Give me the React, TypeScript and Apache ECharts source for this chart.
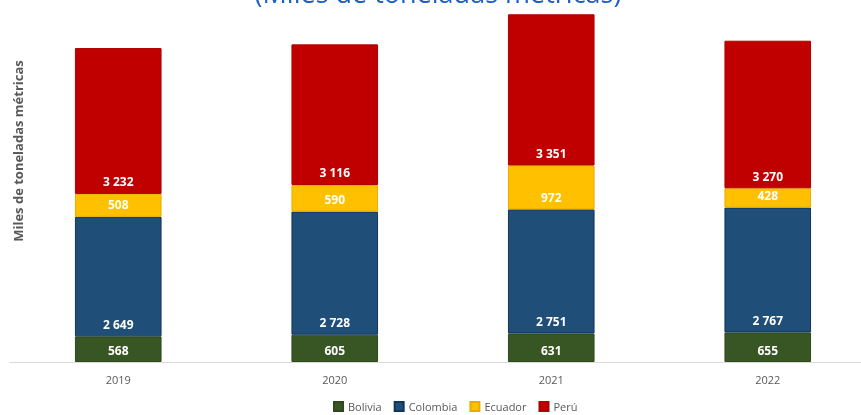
import React, { useEffect, useRef } from "react";
import * as echarts from "echarts";

const years = ["2019", "2020", "2021", "2022"];
const bolivia = [568, 605, 631, 655];
const colombia = [2649, 2728, 2751, 2767];
const ecuador = [508, 590, 972, 428];
const peru = [3232, 3116, 3351, 3270];

const fmt = (v: number) => {
  const s = String(Math.round(v));
  return s.replace(/\B(?=(\d{3})+(?!\d))/g, " ");
};

export default function App() {
  const ref = useRef<HTMLDivElement>(null);
  useEffect(() => {
    if (!ref.current) return;
    const chart = echarts.init(ref.current, null, { renderer: "svg" });
    const label = {
      show: true,
      position: "insideBottom" as const,
      distance: 6,
      color: "#ffffff",
      fontWeight: "bold" as const,
      fontSize: 12,
      fontFamily: "Open Sans",
      formatter: (p: any) => fmt(p.value),
    };
    const mk = (name: string, data: number[], color: string, border: string) => ({
      name,
      type: "bar" as const,
      stack: "total",
      data,
      barWidth: "40%",
      itemStyle: { color, borderColor: border, borderWidth: 1 },
      label,
    });
    chart.setOption({
      animation: false,
      textStyle: { fontFamily: "Open Sans" },
      grid: { left: 10, top: 1, width: 866, height: 361, containLabel: false },
      xAxis: {
        type: "category",
        data: years,
        axisLine: { lineStyle: { color: "#d9d9d9", width: 1 } },
        axisTick: { show: false },
        axisLabel: { color: "#595959", fontSize: 11, margin: 12 },
      },
      yAxis: {
        type: "value",
        min: 0,
        max: 8000,
        show: false,
        splitLine: { show: false },
      },
      legend: {
        top: 401,
        left: 333,
        padding: 0,
        itemWidth: 9,
        itemHeight: 9,
        itemGap: 12,
        icon: "rect",
        textStyle: { color: "#595959", fontSize: 11 },
        data: ["Bolivia", "Colombia", "Ecuador", "Perú"],
      },
      graphic: [
        {
          type: "text",
          x: 438,
          y: -8,
          style: {
            text: "(Miles de toneladas métricas)",
            fill: "#1f5fbf",
            fontSize: 27,
            fontFamily: "Open Sans",
            align: "center",
            verticalAlign: "middle",
          },
        },
        {
          type: "text",
          x: 18,
          y: 151,
          rotation: Math.PI / 2,
          style: {
            text: "Miles de toneladas métricas",
            fill: "#595959",
            fontSize: 13,
            fontWeight: "bold",
            fontFamily: "Open Sans",
            align: "center",
            verticalAlign: "middle",
          },
        },
      ],
      series: [
        mk("Bolivia", bolivia, "#375623", "#2e4a1d"),
        mk("Colombia", colombia, "#1f4e79", "#10365e"),
        mk("Ecuador", ecuador, "#ffc000", "#e6ad00"),
        mk("Perú", peru, "#c00000", "#b00000"),
      ],
    });
    return () => chart.dispose();
  }, []);
  return (
    <div
      style={{
        position: "fixed",
        left: 0,
        top: 0,
        width: 861,
        height: 415,
        overflow: "hidden",
      }}
    >
      <div ref={ref} style={{ width: 880, height: 415 }} />
    </div>
  );
}
